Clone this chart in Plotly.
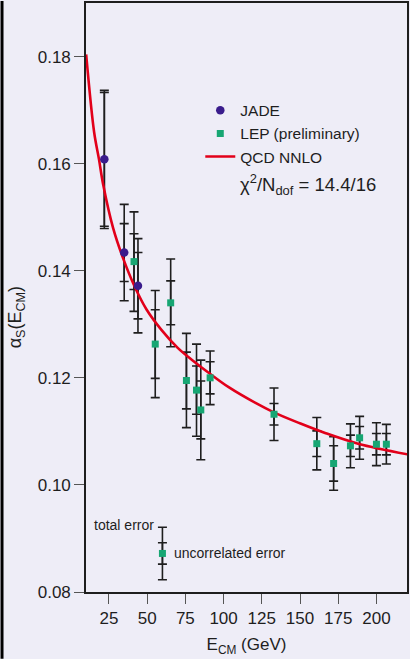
import plotly.graph_objects as go

# ---------------- data ----------------
jade_e = [22, 35, 44]
jade_a = [0.1608, 0.1434, 0.1372]
jade_tot = [0.0129, 0.0090, 0.0088]
jade_unc = [0.0125, 0.0054, 0.0062]

lep_e = [41.4, 55.3, 65.4, 75.7, 82.3, 85.1, 91.2, 133, 161, 172, 183, 189, 200, 206.5]
lep_a = [0.1417, 0.1263, 0.1340, 0.1195, 0.1177, 0.1140, 0.1200, 0.1132, 0.1077,
         0.1040, 0.1073, 0.1088, 0.1076, 0.1076]
lep_tot = [0.0093, 0.0100, 0.0082, 0.0088, 0.0086, 0.0093, 0.0050, 0.0049, 0.0049,
           0.0050, 0.0041, 0.0040, 0.0040, 0.0037]
lep_unc = [0.0052, 0.0064, 0.0041, 0.0053, 0.0045, 0.0054, 0.0030, 0.0020, 0.0024,
           0.0033, 0.0020, 0.0021, 0.0020, 0.0020]

qcd_e = [10.1, 15.3, 18.5, 21.3, 27.8, 34.3, 41.9, 49.5, 59.2, 70, 80, 90,
         103.6, 120.9, 133.2, 150, 166.4, 188.0, 220.5]
qcd_a = [0.1804, 0.1659, 0.1608, 0.1560, 0.1479, 0.1423, 0.1370, 0.1328, 0.1290,
         0.1256, 0.1232, 0.1210, 0.1182, 0.1153, 0.1135, 0.1115, 0.1097, 0.1077, 0.1057]

key_e = [60]
key_a = [0.0872]
key_tot = [0.0049]
key_unc = [0.0020]

x_ticks = [25, 50, 75, 100, 125, 150, 175, 200]
y_ticks = [0.08, 0.10, 0.12, 0.14, 0.16, 0.18]

BG = "#eeedf7"
INK = "#1e1e1e"
RED = "#e2001a"
PURPLE = "#3a1c8c"
GREEN = "#17a673"
FONT = "Liberation Sans, Arial, sans-serif"


def err(vals, width=4.5):
    return dict(type="data", array=vals, visible=True, color=INK,
                thickness=1.6, width=width)


fig = go.Figure()

# error bars (total then uncorrelated)
for e, a, t, u in [(jade_e, jade_a, jade_tot, jade_unc),
                   (lep_e, lep_a, lep_tot, lep_unc),
                   (key_e, key_a, key_tot, key_unc)]:
    fig.add_trace(go.Scatter(x=e, y=a, mode="markers", marker=dict(size=1, opacity=0),
                             error_y=err(t), showlegend=False, hoverinfo="skip"))
    fig.add_trace(go.Scatter(x=e, y=a, mode="markers", marker=dict(size=1, opacity=0),
                             error_y=err(u), showlegend=False, hoverinfo="skip"))

# QCD curve
fig.add_trace(go.Scatter(x=qcd_e, y=qcd_a, mode="lines", name="QCD NNLO",
                         line=dict(color=RED, width=2.6, shape="spline", smoothing=1.0),
                         legendrank=3))

# markers
fig.add_trace(go.Scatter(x=jade_e, y=jade_a, mode="markers", name="JADE",
                         marker=dict(symbol="circle", size=8.5, color=PURPLE), legendrank=1))
fig.add_trace(go.Scatter(x=lep_e, y=lep_a, mode="markers", name="LEP (preliminary)",
                         marker=dict(symbol="square", size=7, color=GREEN), legendrank=2))
fig.add_trace(go.Scatter(x=key_e, y=key_a, mode="markers", showlegend=False,
                         marker=dict(symbol="square", size=7, color=GREEN)))

PW, PH = 323, 591
ML, MB = 86, 67

fig.update_layout(
    width=410, height=659,
    margin=dict(l=ML, r=1, t=1, b=MB, pad=0),
    paper_bgcolor=BG, plot_bgcolor=BG,
    font=dict(family=FONT, size=17, color=INK),
    showlegend=True,
    legend=dict(x=(201 - ML) / PW, y=(592 - 92) / PH, xanchor="left", yanchor="top",
                bgcolor="rgba(0,0,0,0)", font=dict(size=15.5, color=INK),
                itemwidth=30, tracegroupgap=0),
    xaxis=dict(range=[10, 220], tickvals=x_ticks, ticks="outside", ticklen=10,
               tickwidth=1.3, tickcolor="#555", showline=True, linecolor=INK,
               linewidth=1.6, mirror=True, showgrid=False, zeroline=False,
               tickfont=dict(size=17),
               title=dict(text="E<sub>CM</sub> (GeV)", font=dict(size=17), standoff=11)),
    yaxis=dict(range=[0.08, 0.19], tickvals=y_ticks, tickformat=".2f", ticks="outside",
               ticklen=10, tickwidth=1.3, tickcolor="#555", showline=True,
               linecolor=INK, linewidth=1.6, mirror=True, showgrid=False,
               zeroline=False, tickfont=dict(size=17)),
    shapes=[dict(type="rect", xref="paper", yref="paper",
                 x0=-ML / PW, x1=-(ML - 3) / PW, y0=-MB / PH, y1=1 + 2 / PH,
                 fillcolor="#000000", line=dict(width=0), layer="above")],
    annotations=[
        dict(x=-(ML - 17) / PW, y=(592 - 316) / PH, xref="paper", yref="paper",
             text="α<sub>S</sub>(E<sub>CM</sub>)", showarrow=False, textangle=-90,
             xanchor="center", yanchor="middle", font=dict(size=18, color=INK)),
        dict(x=(239 - ML) / PW, y=(592 - 183) / PH, xref="paper", yref="paper",
             text="χ<sup>2</sup>/N<sub>dof</sub> = 14.4/16", showarrow=False,
             xanchor="left", yanchor="middle", font=dict(size=18.5, color=INK)),
        dict(x=55.6, y=0.0926, xref="x", yref="y", text="total error", showarrow=False,
             xanchor="right", yanchor="middle", font=dict(size=14, color=INK)),
        dict(x=66.2, y=0.0873, xref="x", yref="y", text="uncorrelated error",
             showarrow=False, xanchor="left", yanchor="middle",
             font=dict(size=14, color=INK)),
    ],
)

fig.write_html("out.html")
